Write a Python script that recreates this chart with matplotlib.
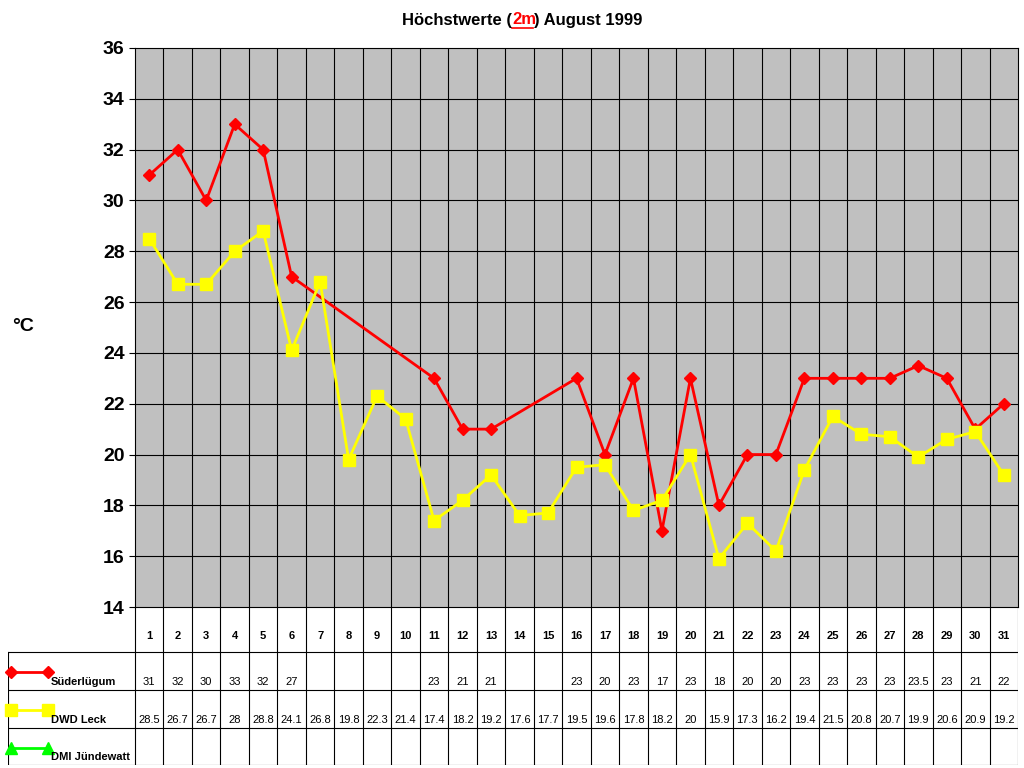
import numpy as np
import matplotlib.pyplot as plt
from matplotlib.lines import Line2D

plt.rcParams['font.family'] = ['Liberation Sans', 'DejaVu Sans']

days = list(range(1, 32))
suederluegum = [31, 32, 30, 33, 32, 27, None, None, None, None, 23, 21, 21, None, None,
                23, 20, 23, 17, 23, 18, 20, 20, 23, 23, 23, 23, 23.5, 23, 21, 22]
dwd_leck = [28.5, 26.7, 26.7, 28, 28.8, 24.1, 26.8, 19.8, 22.3, 21.4, 17.4, 18.2, 19.2, 17.6,
            17.7, 19.5, 19.6, 17.8, 18.2, 20, 15.9, 17.3, 16.2, 19.4, 21.5, 20.8, 20.7, 19.9,
            20.6, 20.9, 19.2]
series_names = ["Süderlügum", "DWD Leck", "DMI Jündewatt"]

W, H = 1024, 768
fig = plt.figure(figsize=(W / 100, H / 100), dpi=100)
L, R, T, B = 135, 1018, 48, 607
ax = fig.add_axes([L / W, 1 - B / H, (R - L) / W, (B - T) / H])
ax.set_facecolor('#C0C0C0')
ax.set_xlim(0.5, 31.5)
ax.set_ylim(14, 36)
ax.set_yticks(range(14, 37, 2))
ax.tick_params(axis='y', labelsize=14, length=4)
for lab in ax.get_yticklabels():
    lab.set_fontweight('bold')
ax.set_xticks([])
for x in np.arange(1.5, 31.5, 1):
    ax.axvline(x, color='black', lw=0.8)
for y in range(16, 36, 2):
    ax.axhline(y, color='black', lw=0.8)
for s in ax.spines.values():
    s.set_linewidth(0.8)

sx = [d for d, v in zip(days, suederluegum) if v is not None]
sy = [v for v in suederluegum if v is not None]
ax.plot(sx, sy, color='#FF0000', lw=2, marker='D', ms=6, zorder=3)
ax.plot(days, dwd_leck, color='#FFFF00', lw=2, marker='s', ms=8, zorder=4)

fig.text(12 / W, 1 - 326 / H, "°C", fontsize=14, fontweight='bold', va='center')

# title
t1 = fig.text(0.5, 1 - 20 / H, "Höchstwerte (", fontsize=12, fontweight='bold', ha='right', va='center')
fig.text(0.5, 1 - 20 / H, "2m", fontsize=12, fontweight='bold', color='red', ha='left', va='center')
fig.text(0.5 + 22 / W, 1 - 20 / H, ") August 1999", fontsize=12, fontweight='bold', ha='left', va='center')
fig.add_artist(Line2D([0.5, 0.5 + 21 / W], [1 - 28 / H, 1 - 28 / H], color='red', lw=1.2))

# data table
tx0 = 8
colw = (R - L) / 31
tab = fig.add_axes([tx0 / W, 1 - 765 / H, (R - tx0) / W, (765 - B) / H])
tab.set_xlim(0.5 - (L - tx0) / colw, 31.5)
tab.set_ylim(765, B)
tab.axis('off')
rows = [B, 652, 690, 728, 765]
xl = 0.5 - (L - tx0) / colw
for y in rows[1:]:
    tab.plot([xl, 31.5], [y, y], color='black', lw=0.8)
for x in np.arange(0.5, 32, 1):
    tab.plot([x, x], [B, 765], color='black', lw=0.8)
tab.plot([xl, xl], [652, 765], color='black', lw=0.8)
for d in days:
    tab.text(d, 636, str(d), ha='center', va='center', fontsize=8, fontweight='bold')
for row, vals in ((1, suederluegum), (2, dwd_leck)):
    yb = rows[row + 1] - 8
    for d, v in zip(days, vals):
        if v is not None:
            tab.text(d, yb, f"{v:g}", ha='center', va='center', fontsize=8)
styles = [('#FF0000', 'D', 6), ('#FFFF00', 's', 8), ('#00FF00', '^', 8)]
for i, (name, (c, m, ms)) in enumerate(zip(series_names, styles)):
    yl = rows[i + 1] + 20
    tab.plot([xl + 0.1, xl + 1.4], [yl, yl], color=c, lw=2, marker=m, ms=ms,
             markevery=[1] if False else None, clip_on=False)
    tab.text(xl + 1.5, rows[i + 2] - 8, name, fontsize=8, fontweight='bold', va='center')

fig.savefig('out.png', dpi=100)
